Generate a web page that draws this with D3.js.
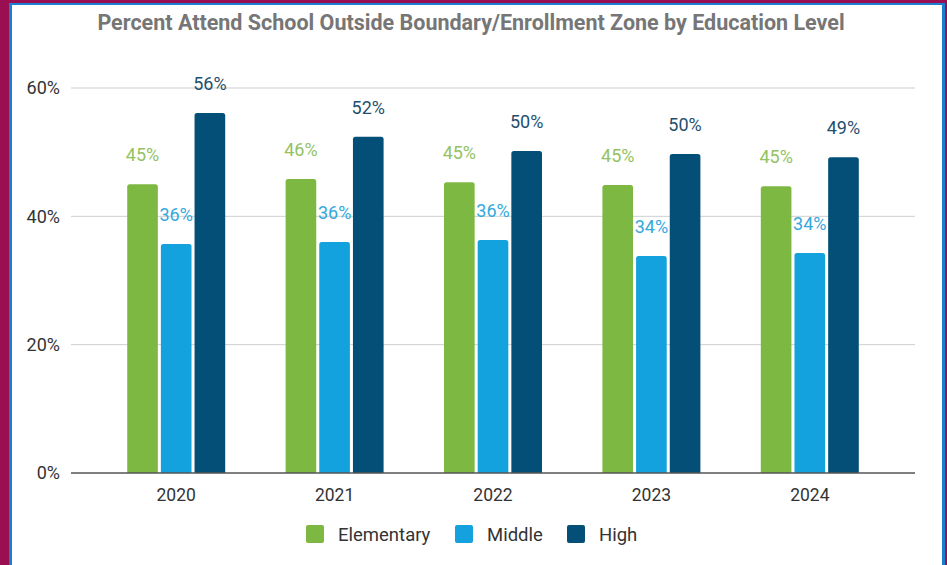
<!DOCTYPE html>
<html>
<head>
<meta charset="utf-8">
<script src="https://cdn.jsdelivr.net/npm/d3@7"></script>
<style>
  html, body { margin: 0; padding: 0; background: #fff; }
  svg { display: block; font-family: Roboto, "Noto Sans", sans-serif; }
</style>
</head>
<body>
<svg id="chart" width="947" height="565"></svg>
<script>
// Share of students attending school outside their boundary/enrollment zone
const years = ["2020", "2021", "2022", "2023", "2024"];
const levels = ["Elementary", "Middle", "High"];
const elementary = [45.0, 45.8, 45.3, 44.9, 44.7];
const middle = [35.7, 36.0, 36.3, 33.8, 34.3];
const high = [56.1, 52.4, 50.2, 49.7, 49.2];
const yTicks = [0, 20, 40, 60];

const seriesValues = { Elementary: elementary, Middle: middle, High: high };
const barColor = { Elementary: "#7db942", Middle: "#13a2dd", High: "#034f78" };
const labelColor = { Elementary: "#93c262", Middle: "#35a8dc", High: "#1f4f6d" };

const svg = d3.select("#chart");
const W = 947, H = 565;

// Frame
svg.append("rect").attr("x", 0).attr("y", 0).attr("width", W).attr("height", H).attr("fill", "#9a0f52");
svg.append("rect").attr("x", 9).attr("y", 3).attr("width", 936).attr("height", H).attr("fill", "#1b7fcf");
svg.append("rect").attr("x", 12).attr("y", 5).attr("width", 930).attr("height", H).attr("fill", "#ffffff");

// Title
svg.append("text")
  .attr("x", 471).attr("y", 30)
  .attr("text-anchor", "middle")
  .attr("font-size", 21.5).attr("font-weight", 700)
  .attr("fill", "#767676")
  .text("Percent Attend School Outside Boundary/Enrollment Zone by Education Level");

const y = d3.scaleLinear().domain([0, 60]).range([473, 88]);
const x0 = d3.scaleBand().domain(years).range([97, 889]).padding(0);
const x1 = d3.scaleBand().domain(levels).range([-49, 49]).paddingInner(0.09);

const gridLeft = 71, gridRight = 915;

// Gridlines and y tick labels
const yAxis = svg.append("g");
yAxis.selectAll("line.grid")
  .data(yTicks.filter(t => t > 0))
  .join("line")
  .attr("x1", gridLeft).attr("x2", gridRight)
  .attr("y1", d => y(d)).attr("y2", d => y(d))
  .attr("stroke", "#cfcfcf").attr("stroke-width", 1);
yAxis.selectAll("text")
  .data(yTicks)
  .join("text")
  .attr("x", 60).attr("y", d => y(d))
  .attr("dy", "0.36em")
  .attr("text-anchor", "end")
  .attr("font-size", 18).attr("fill", "#333")
  .text(d => d + "%");

// Bars with slightly rounded tops
function barPath(xl, w, yt, yb, r) {
  r = Math.min(r, (yb - yt));
  return `M${xl},${yb}V${yt + r}Q${xl},${yt} ${xl + r},${yt}H${xl + w - r}Q${xl + w},${yt} ${xl + w},${yt + r}V${yb}Z`;
}

const groups = svg.append("g").selectAll("g")
  .data(years)
  .join("g")
  .attr("transform", d => `translate(${x0(d) + x0.bandwidth() / 2},0)`);

groups.selectAll("path")
  .data((d, i) => levels.map(k => ({ key: k, value: seriesValues[k][i] })))
  .join("path")
  .attr("fill", d => barColor[d.key])
  .attr("d", d => barPath(x1(d.key), x1.bandwidth(), y(d.value), y(0), 2.5));

groups.selectAll("text")
  .data((d, i) => levels.map(k => ({ key: k, value: seriesValues[k][i] })))
  .join("text")
  .attr("x", d => x1(d.key) + x1.bandwidth() / 2)
  .attr("y", d => y(d.value) - 23)
  .attr("text-anchor", "middle")
  .attr("font-size", 18)
  .attr("fill", d => labelColor[d.key])
  .text(d => Math.round(d.value) + "%");

// Baseline
svg.append("line")
  .attr("x1", gridLeft).attr("x2", gridRight)
  .attr("y1", y(0)).attr("y2", y(0))
  .attr("stroke", "#555").attr("stroke-width", 1.5);

// Year labels
const xAxis = d3.axisBottom(x0).tickSize(0).tickPadding(0);
const xg = svg.append("g").attr("transform", `translate(0,${y(0)})`).call(xAxis);
xg.select(".domain").remove();
xg.selectAll("text")
  .attr("y", 22).attr("dy", "0.36em")
  .attr("font-family", "Roboto, sans-serif")
  .attr("font-size", 17.5).attr("fill", "#333");

// Legend
const legendItems = [
  { key: "Elementary", x: 306 },
  { key: "Middle", x: 455 },
  { key: "High", x: 567 }
];
const legend = svg.append("g").selectAll("g")
  .data(legendItems)
  .join("g")
  .attr("transform", d => `translate(${d.x},525)`);
legend.append("rect")
  .attr("width", 18).attr("height", 18).attr("rx", 2)
  .attr("fill", d => barColor[d.key]);
legend.append("text")
  .attr("x", 32).attr("y", 9).attr("dy", "0.36em")
  .attr("font-size", 18.5).attr("fill", "#333")
  .text(d => d.key);
</script>
</body>
</html>
